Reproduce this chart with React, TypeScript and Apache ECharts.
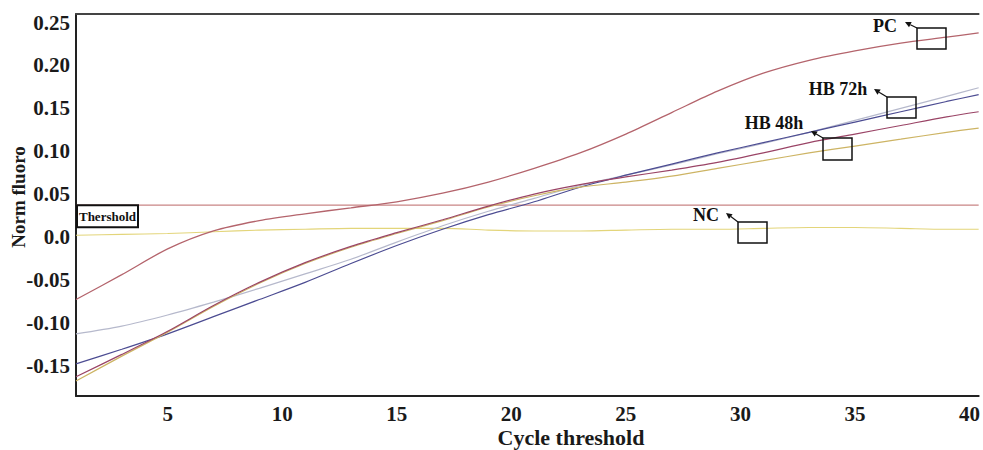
import React, { useEffect, useRef } from "react";
import * as echarts from "echarts";

// ---- data ----
const CYCLES = [1, 3, 5, 7, 9, 11, 13, 15, 17, 19, 21, 23, 25, 27, 29, 31, 33, 35, 37, 39, 40.4];

const PC_VALUES = [-0.073, -0.044, -0.014, 0.007, 0.019, 0.027, 0.034, 0.041, 0.051, 0.064, 0.08, 0.098, 0.12, 0.145, 0.17, 0.191, 0.206, 0.217, 0.226, 0.233, 0.238];
const LAVENDER_VALUES = [-0.113, -0.104, -0.091, -0.076, -0.06, -0.043, -0.026, -0.006, 0.013, 0.03, 0.045, 0.06, 0.072, 0.084, 0.097, 0.109, 0.122, 0.136, 0.15, 0.164, 0.174];
const NAVY_VALUES = [-0.148, -0.131, -0.113, -0.093, -0.073, -0.053, -0.031, -0.01, 0.009, 0.026, 0.041, 0.058, 0.072, 0.085, 0.098, 0.11, 0.122, 0.134, 0.146, 0.158, 0.166];
const MAROON_VALUES = [-0.163, -0.137, -0.11, -0.08, -0.053, -0.03, -0.011, 0.005, 0.02, 0.036, 0.05, 0.061, 0.07, 0.078, 0.087, 0.098, 0.11, 0.12, 0.13, 0.14, 0.146];
const OLIVE_VALUES = [-0.168, -0.139, -0.111, -0.081, -0.054, -0.031, -0.012, 0.004, 0.019, 0.035, 0.048, 0.058, 0.064, 0.071, 0.08, 0.089, 0.098, 0.106, 0.114, 0.122, 0.127];
const NC_VALUES = [0.002, 0.003, 0.004, 0.006, 0.008, 0.009, 0.01, 0.01, 0.01, 0.008, 0.007, 0.007, 0.008, 0.009, 0.009, 0.01, 0.011, 0.011, 0.01, 0.009, 0.009];
const THRESHOLD = 0.037;

const X_TICKS = [5, 10, 15, 20, 25, 30, 35, 40];
const Y_TICKS = [-0.15, -0.1, -0.05, 0, 0.05, 0.1, 0.15, 0.2, 0.25];

const X_MIN = 1;
const X_MAX = 40.4;
const Y_MIN = -0.1855;
const Y_MAX = 0.26;

const X_TITLE = "Cycle threshold";
const Y_TITLE = "Norm fluoro";
const THRESHOLD_LABEL = "Thershold";

// annotation labels (layout kept separately)
const ANNOTATIONS = [
  { label: "PC", tx: 885, ty: 26, tip: [905, 22], box: [917, 28, 29, 21] },
  { label: "HB 72h", tx: 838, ty: 89, tip: [874, 89], box: [887, 97, 29, 21] },
  { label: "HB 48h", tx: 774, ty: 123, tip: [811, 131], box: [823, 138, 29, 22] },
  { label: "NC", tx: 706, ty: 215, tip: [726, 213], box: [738, 222, 29, 21] },
];

const FONT = "'Liberation Serif', 'Times New Roman', serif";

function pairs(vals: number[]) {
  return CYCLES.map((c, i) => [c, vals[i]]);
}

function makeLine(name: string, vals: number[], color: string, width = 1.2) {
  return {
    name,
    type: "line",
    data: pairs(vals),
    smooth: 0.3,
    showSymbol: false,
    xAxisIndex: 0,
    yAxisIndex: 0,
    lineStyle: { color, width },
    z: 3,
  };
}

function arrowGraphics() {
  const out: any[] = [];
  ANNOTATIONS.forEach((a) => {
    const [bx, by, bw, bh] = a.box;
    const [tx, ty] = a.tip;
    out.push({
      type: "text",
      x: a.tx,
      y: a.ty,
      style: {
        text: a.label,
        font: `bold 18px ${FONT}`,
        fill: "#111",
        align: "center",
        verticalAlign: "middle",
      },
      z: 10,
    });
    out.push({
      type: "rect",
      shape: { x: bx, y: by, width: bw, height: bh },
      style: { fill: "none", stroke: "#111", lineWidth: 1.5 },
      z: 10,
    });
    const dx = tx - bx;
    const dy = ty - by;
    const len = Math.sqrt(dx * dx + dy * dy);
    const ux = dx / len;
    const uy = dy / len;
    const hl = 6;
    const hw = 3;
    const baseX = tx - ux * hl;
    const baseY = ty - uy * hl;
    out.push({
      type: "line",
      shape: { x1: bx, y1: by, x2: baseX, y2: baseY },
      style: { stroke: "#111", lineWidth: 1.2 },
      z: 10,
    });
    out.push({
      type: "polygon",
      shape: {
        points: [
          [tx, ty],
          [baseX - uy * hw, baseY + ux * hw],
          [baseX + uy * hw, baseY - ux * hw],
        ],
      },
      style: { fill: "#111" },
      z: 10,
    });
  });
  return out;
}

export default function App() {
  const ref = useRef<HTMLDivElement>(null);

  useEffect(() => {
    if (!ref.current) return;
    const chart = echarts.init(ref.current, undefined, { renderer: "svg" });
    const labelStyle = {
      fontFamily: FONT,
      fontWeight: "bold" as const,
      fontSize: 21,
      color: "#1a1a1a",
    };
    chart.setOption({
      animation: false,
      backgroundColor: "#ffffff",
      grid: { left: 76, right: 0, top: 14, bottom: 54, containLabel: false },
      xAxis: [
        {
          type: "value",
          min: X_MIN,
          max: X_MAX,
          position: "bottom",
          axisLine: { show: true, onZero: false, lineStyle: { color: "#222", width: 2 } },
          axisTick: { show: false },
          splitLine: { show: false },
          axisLabel: {
            ...labelStyle,
            margin: 7,
            customValues: X_TICKS,
            formatter: (v: number) => String(v),
          },
        },
        {
          type: "value",
          min: X_MIN,
          max: X_MAX,
          position: "top",
          axisLine: { show: true, onZero: false, lineStyle: { color: "#444", width: 1.8 } },
          axisTick: { show: false },
          axisLabel: { show: false },
          splitLine: { show: false },
        },
      ],
      yAxis: {
        type: "value",
        min: Y_MIN,
        max: Y_MAX,
        axisLine: { show: true, onZero: false, lineStyle: { color: "#222", width: 2 } },
        axisTick: { show: false },
        splitLine: { show: false },
        axisLabel: {
          ...labelStyle,
          margin: 6,
          customValues: Y_TICKS,
          formatter: (v: number) => (Math.abs(v) < 1e-9 ? "0.0" : v.toFixed(2)),
        },
      },
      series: [
        {
          name: "Threshold",
          type: "line",
          data: [
            [X_MIN, THRESHOLD],
            [X_MAX, THRESHOLD],
          ],
          showSymbol: false,
          lineStyle: { color: "#c98585", width: 1.2 },
          z: 2,
        },
        makeLine("NC", NC_VALUES, "#e3d57a", 1.1),
        makeLine("Lavender", LAVENDER_VALUES, "#b6b9cc", 1.2),
        makeLine("Navy", NAVY_VALUES, "#4c4c92", 1.2),
        makeLine("Olive", OLIVE_VALUES, "#cdb464", 1.2),
        makeLine("Maroon", MAROON_VALUES, "#9a4466", 1.2),
        makeLine("PC", PC_VALUES, "#b4646c", 1.3),
      ],
    });

    const thrPx = chart.convertToPixel({ gridIndex: 0 }, [X_MIN, THRESHOLD]) as number[];
    const graphics: any[] = [
      {
        type: "rect",
        shape: { x: thrPx[0] + 1, y: thrPx[1], width: 61, height: 22 },
        style: { fill: "#fff", stroke: "#111", lineWidth: 2 },
        z: 10,
      },
      {
        type: "text",
        x: thrPx[0] + 31.5,
        y: thrPx[1] + 11.5,
        style: {
          text: THRESHOLD_LABEL,
          font: `bold 13px ${FONT}`,
          fill: "#111",
          align: "center",
          verticalAlign: "middle",
        },
        z: 11,
      },
      {
        type: "text",
        x: 571,
        y: 437,
        style: {
          text: X_TITLE,
          font: `bold 22px ${FONT}`,
          fill: "#1a1a1a",
          align: "center",
          verticalAlign: "middle",
        },
      },
      {
        type: "text",
        x: 18,
        y: 197,
        rotation: Math.PI / 2,
        style: {
          text: Y_TITLE,
          font: `bold 19px ${FONT}`,
          fill: "#1a1a1a",
          align: "center",
          verticalAlign: "middle",
        },
      },
      ...arrowGraphics(),
    ];
    chart.setOption({ graphic: graphics });

    return () => chart.dispose();
  }, []);

  return (
    <div
      ref={ref}
      style={{ position: "fixed", left: 0, top: 0, width: 983, height: 450, background: "#fff" }}
    />
  );
}
